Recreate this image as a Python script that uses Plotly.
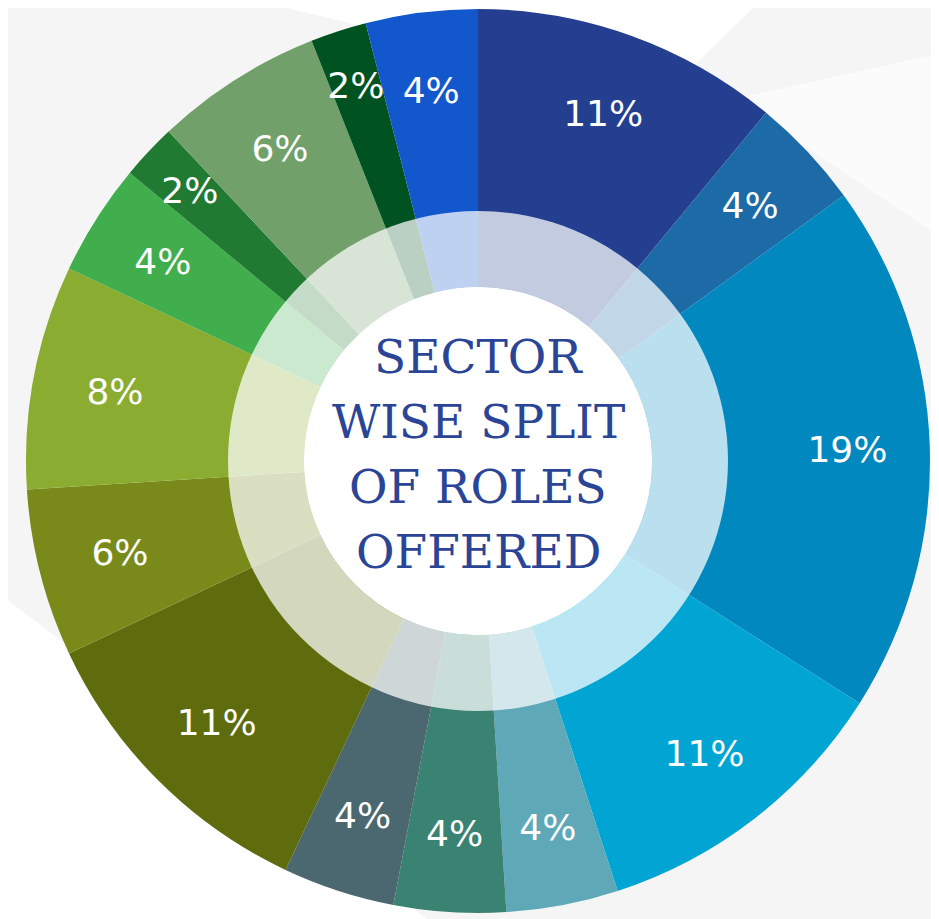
import plotly.graph_objects as go

# Slices, clockwise from 12 o'clock
shares = [11, 4, 19, 11, 4, 4, 4, 11, 6, 8, 4, 2, 6, 2, 4]
colors = [
    "#243f8f", "#1c6aa6", "#0088bf", "#00a5d3", "#5fa8b8",
    "#3a8272", "#4b6770", "#5e6c0e", "#7a8a1a", "#8aac30",
    "#40ae4c", "#217a32", "#71a06a", "#005221", "#1257cc",
]
center_lines = ["SECTOR", "WISE SPLIT", "OF ROLES", "OFFERED"]

# page has an 8px body margin, so the figure is drawn 8px in
OFF = 8
W, H = 939 - OFF, 919 - OFF
CX, CY = 478 - OFF, 461 - OFF     # pie centre in figure pixels (from top)
R_OUT, R_RING, R_HOLE = 452, 250, 174
R_TXT = 420                       # band used for the percentage labels


def dom(r):
    cy = H - CY
    return dict(x=[max(0, (CX - r) / W), min(1, (CX + r) / W)],
                y=[max(0, (cy - r) / H), min(1, (cy + r) / H)])


fig = go.Figure()

# coloured donut
fig.add_trace(go.Pie(
    values=shares, sort=False, direction="clockwise", rotation=0,
    hole=R_HOLE / R_OUT, domain=dom(R_OUT),
    marker=dict(colors=colors, line=dict(width=0)),
    textinfo="none", hoverinfo="skip", showlegend=False,
))

# translucent white inner ring
fig.add_trace(go.Pie(
    values=[1], hole=R_HOLE / R_RING, domain=dom(R_RING),
    marker=dict(colors=["rgba(255,255,255,0.73)"], line=dict(width=0)),
    textinfo="none", hoverinfo="skip", showlegend=False,
))

# white centre disc
fig.add_trace(go.Pie(
    values=[1], domain=dom(R_HOLE),
    marker=dict(colors=["#ffffff"], line=dict(width=0)),
    textinfo="none", hoverinfo="skip", showlegend=False,
))

# percentage labels, placed in the outer band
fig.add_trace(go.Pie(
    values=shares, sort=False, direction="clockwise", rotation=0,
    hole=0.76, domain=dom(R_TXT),
    marker=dict(colors=["rgba(0,0,0,0)"] * len(shares), line=dict(width=0)),
    text=[f"{s}%" for s in shares], texttemplate="%{text}",
    textposition="inside", insidetextorientation="horizontal",
    textfont=dict(family="DejaVu Sans", size=36, color="white"),
    hoverinfo="skip", showlegend=False,
))

for i, line in enumerate(center_lines):
    fig.add_annotation(
        x=CX / W, y=(H - CY) / H, xref="paper", yref="paper",
        yshift=(1.5 - i) * 65 + 7,
        text=line, showarrow=False,
        font=dict(family="DejaVu Serif", size=47, color="#2b4596"),
    )

# faint geometric background
bg = [
    ("#ffffff", "M 0.3 1 L 0.8 1 L 0.7 0.9 Z"),
    ("#fbfbfb", "M 0.78 0.9 L 1 0.95 L 1 0.75 Z"),
    ("#ffffff", "M 0 0.35 L 0.45 0 L 0 0 Z"),
]
for col, path in bg:
    fig.add_shape(type="path", path=path, xref="paper", yref="paper",
                  fillcolor=col, line=dict(width=0), layer="below")

fig.update_layout(
    width=W, height=H,
    margin=dict(l=0, r=0, t=0, b=0),
    paper_bgcolor="#f5f5f5",
    plot_bgcolor="#f5f5f5",
    uniformtext=dict(minsize=36, mode="show"),
)

fig.write_html("out.html")
